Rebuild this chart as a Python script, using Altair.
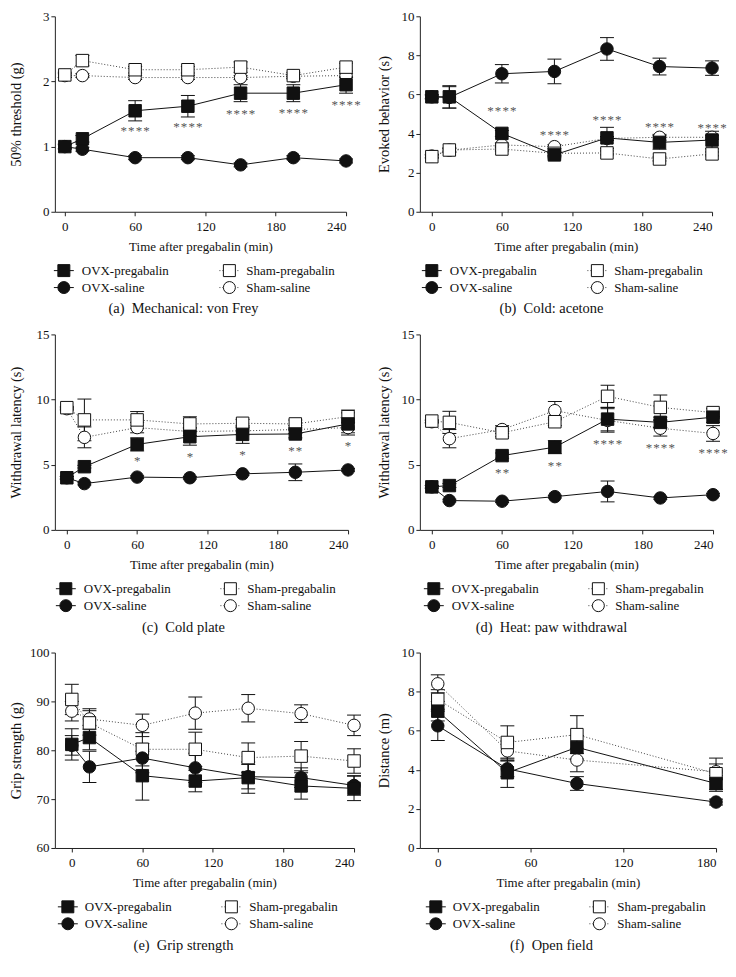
import altair as alt
import pandas as pd

SERIF = "Liberation Serif"
GROUPS = ["OVX-pregabalin", "OVX-saline", "Sham-pregabalin", "Sham-saline"]
T7 = [0, 15, 60, 105, 150, 195, 240]
T4 = [0, 45, 90, 180]
STAR4 = "*\u200a*\u200a*\u200a*"
STAR2 = "*\u200a*"
STAR1 = "*"

# ---------------- (a) Mechanical: von Frey ----------------
a_ovx_preg = [1.00, 1.12, 1.55, 1.62, 1.82, 1.82, 1.95]
a_ovx_preg_sem = [0.04, 0.05, 0.155, 0.165, 0.13, 0.13, 0.13]
a_ovx_sal = [1.00, 0.96, 0.83, 0.83, 0.72, 0.83, 0.78]
a_ovx_sal_sem = [0.03, 0.03, 0.03, 0.03, 0.03, 0.03, 0.03]
a_sham_preg = [2.10, 2.32, 2.18, 2.18, 2.22, 2.09, 2.22]
a_sham_preg_sem = [0.04, 0.08, 0.05, 0.05, 0.08, 0.05, 0.06]
a_sham_sal = [2.09, 2.09, 2.06, 2.06, 2.06, 2.08, 2.09]
a_sham_sal_sem = [0.03, 0.03, 0.03, 0.03, 0.03, 0.03, 0.03]
a_star_t = [60, 105, 150, 195, 240]
a_star_y = [1.28, 1.35, 1.54, 1.56, 1.68]
a_star_lbl = [STAR4, STAR4, STAR4, STAR4, STAR4]

# ---------------- (b) Cold: acetone ----------------
b_ovx_preg = [5.88, 5.88, 4.01, 2.91, 3.78, 3.55, 3.67]
b_ovx_preg_sem = [0.10, 0.57, 0.15, 0.10, 0.54, 0.35, 0.45]
b_ovx_sal = [5.88, 5.85, 7.06, 7.18, 8.33, 7.43, 7.35]
b_ovx_sal_sem = [0.10, 0.55, 0.47, 0.63, 0.58, 0.43, 0.37]
b_sham_preg = [2.82, 3.16, 3.21, 2.99, 3.01, 2.70, 2.96]
b_sham_preg_sem = [0.08, 0.10, 0.10, 0.10, 0.10, 0.10, 0.10]
b_sham_sal = [2.85, 3.15, 3.42, 3.33, 3.75, 3.81, 3.81]
b_sham_sal_sem = [0.08, 0.10, 0.10, 0.10, 0.10, 0.15, 0.10]
b_star_t = [60, 105, 150, 195, 240]
b_star_y = [5.29, 4.07, 4.83, 4.49, 4.45]
b_star_lbl = [STAR4, STAR4, STAR4, STAR4, STAR4]

# ---------------- (c) Cold plate ----------------
c_ovx_preg = [4.00, 4.85, 6.56, 7.15, 7.33, 7.36, 8.13]
c_ovx_preg_sem = [0.10, 0.10, 0.50, 0.65, 0.69, 0.30, 0.85]
c_ovx_sal = [4.00, 3.55, 4.05, 4.00, 4.30, 4.42, 4.60]
c_ovx_sal_sem = [0.10, 0.10, 0.10, 0.10, 0.10, 0.64, 0.10]
c_sham_preg = [9.38, 8.44, 8.44, 8.13, 8.18, 8.13, 8.69]
c_sham_preg_sem = [0.10, 1.60, 0.64, 0.55, 0.30, 0.30, 0.50]
c_sham_sal = [9.30, 7.10, 7.85, 7.55, 7.60, 7.70, 7.85]
c_sham_sal_sem = [0.10, 0.80, 0.40, 0.30, 0.30, 0.30, 0.40]
c_star_t = [60, 105, 150, 195, 240]
c_star_y = [5.49, 5.82, 6.00, 6.26, 6.64]
c_star_lbl = [STAR1, STAR1, STAR1, STAR2, STAR1]

# ---------------- (d) Heat: paw withdrawal ----------------
d_ovx_preg = [3.30, 3.40, 5.70, 6.35, 8.50, 8.25, 8.65]
d_ovx_preg_sem = [0.10, 0.15, 0.20, 0.50, 0.90, 0.40, 0.40]
d_ovx_sal = [3.30, 2.25, 2.20, 2.55, 2.95, 2.45, 2.70]
d_ovx_sal_sem = [0.10, 0.10, 0.10, 0.10, 0.80, 0.10, 0.10]
d_sham_preg = [8.35, 8.25, 7.45, 8.30, 10.25, 9.40, 9.00]
d_sham_preg_sem = [0.10, 0.85, 0.30, 0.30, 0.85, 0.95, 0.30]
d_sham_sal = [8.30, 7.00, 7.70, 9.15, 8.40, 7.80, 7.40]
d_sham_sal_sem = [0.10, 0.70, 0.30, 0.70, 0.90, 0.60, 0.60]
d_star_t = [60, 105, 150, 195, 240]
d_star_y = [4.60, 5.10, 6.80, 6.50, 6.10]
d_star_lbl = [STAR2, STAR2, STAR4, STAR4, STAR4]

# ---------------- (e) Grip strength ----------------
e_ovx_preg = [81.2, 82.6, 74.8, 73.7, 74.4, 72.7, 72.2]
e_ovx_preg_sem = [3.2, 2.5, 5.0, 2.2, 3.2, 2.7, 2.5]
e_ovx_sal = [81.0, 76.6, 78.4, 76.4, 74.6, 74.4, 72.8]
e_ovx_sal_sem = [2.0, 3.2, 3.0, 3.0, 2.5, 2.0, 2.0]
e_sham_preg = [90.4, 85.6, 80.2, 80.2, 78.5, 78.8, 77.8]
e_sham_preg_sem = [3.1, 2.5, 3.4, 3.5, 3.0, 3.0, 2.5]
e_sham_sal = [88.0, 86.4, 85.1, 87.6, 88.6, 87.5, 85.1]
e_sham_sal_sem = [2.0, 2.1, 2.3, 3.3, 2.8, 1.8, 2.1]

# ---------------- (f) Open field ----------------
f_ovx_preg = [7.00, 3.85, 5.15, 3.30]
f_ovx_preg_sem = [0.50, 0.75, 0.60, 0.40]
f_ovx_sal = [6.25, 4.05, 3.30, 2.35]
f_ovx_sal_sem = [0.75, 0.40, 0.35, 0.15]
f_sham_preg = [7.60, 5.40, 5.80, 3.80]
f_sham_preg_sem = [0.50, 0.85, 0.97, 0.80]
f_sham_sal = [8.40, 4.97, 4.50, 3.90]
f_sham_sal_sem = [0.46, 0.50, 0.60, 0.40]

# column 0 axis at page x 53, column 1 at 418 (shared per column)
PANELS = [
    dict(t=T7, series=[a_ovx_preg, a_ovx_sal, a_sham_preg, a_sham_sal],
         sems=[a_ovx_preg_sem, a_ovx_sal_sem, a_sham_preg_sem, a_sham_sal_sem],
         ydom=[0, 3], yticks=[0, 1, 2, 3], xticks=[0, 60, 120, 180, 240],
         ytitle="50% threshold (g)", caption="(a)\u2002Mechanical: von Frey",
         stars=(a_star_t, a_star_y, a_star_lbl), col=0, tp=19, w=292, xmin=-8.5,
         leg=[62, 80, 228, 245]),
    dict(t=T7, series=[b_ovx_preg, b_ovx_sal, b_sham_preg, b_sham_sal],
         sems=[b_ovx_preg_sem, b_ovx_sal_sem, b_sham_preg_sem, b_sham_sal_sem],
         ydom=[0, 10], yticks=[0, 2, 4, 6, 8, 10], xticks=[0, 60, 120, 180, 240],
         ytitle="Evoked behavior (s)", caption="(b)\u2002Cold: acetone",
         stars=(b_star_t, b_star_y, b_star_lbl), col=1, tp=9.5, w=293, xmin=-10.25,
         leg=[62, 80, 228, 245]),
    dict(t=T7, series=[c_ovx_preg, c_ovx_sal, c_sham_preg, c_sham_sal],
         sems=[c_ovx_preg_sem, c_ovx_sal_sem, c_sham_preg_sem, c_sham_sal_sem],
         ydom=[0, 15], yticks=[0, 5, 10, 15], xticks=[0, 60, 120, 180, 240],
         ytitle="Withdrawal latency (s)", caption="(c)\u2002Cold plate",
         stars=(c_star_t, c_star_y, c_star_lbl), col=0, tp=12.5, w=294, xmin=-10.2,
         leg=[64, 82, 229, 246]),
    dict(t=T7, series=[d_ovx_preg, d_ovx_sal, d_sham_preg, d_sham_sal],
         sems=[d_ovx_preg_sem, d_ovx_sal_sem, d_sham_preg_sem, d_sham_sal_sem],
         ydom=[0, 15], yticks=[0, 5, 10, 15], xticks=[0, 60, 120, 180, 240],
         ytitle="Withdrawal latency (s)", caption="(d)\u2002Heat: paw withdrawal",
         stars=(d_star_t, d_star_y, d_star_lbl), col=1, tp=9.5, w=294, xmin=-10.2,
         leg=[64, 82, 229, 246]),
    dict(t=T7, series=[e_ovx_preg, e_ovx_sal, e_sham_preg, e_sham_sal],
         sems=[e_ovx_preg_sem, e_ovx_sal_sem, e_sham_preg_sem, e_sham_sal_sem],
         ydom=[60, 100], yticks=[60, 70, 80, 90, 100], xticks=[0, 60, 120, 180, 240],
         ytitle="Grip strength (g)", caption="(e)\u2002Grip strength",
         stars=None, col=0, tp=6, w=300, xmin=-14.4,
         leg=[66, 83, 230, 248]),
    dict(t=T4, series=[f_ovx_preg, f_ovx_sal, f_sham_preg, f_sham_sal],
         sems=[f_ovx_preg_sem, f_ovx_sal_sem, f_sham_preg_sem, f_sham_sal_sem],
         ydom=[0, 10], yticks=[0, 2, 4, 6, 8, 10], xticks=[0, 60, 120, 180],
         ytitle="Distance (m)", caption="(f)\u2002Open field",
         stars=None, col=1, tp=9.5, w=297, xmin=-11.6,
         leg=[66, 83, 230, 248]),
]

H = 196
TOP, BOT = 7, 116
AXIS_X = [53, 418]
COL_START = [8, 376]
COL_END = [375, 727]
CAP_X = [182, 550]
MSIZE = 156
INK = "#111111"
DOT = "#444444"

MARKS = {
    "OVX-pregabalin": dict(shape="square", fill=INK, dash=None),
    "OVX-saline": dict(shape="circle", fill=INK, dash=None),
    "Sham-pregabalin": dict(shape="square", fill="white", dash=[1, 2]),
    "Sham-saline": dict(shape="circle", fill="white", dash=[1, 2]),
}


def panel(p):
    rows = []
    for g, ser, sem in zip(GROUPS, p["series"], p["sems"]):
        for t, m, s in zip(p["t"], ser, sem):
            rows.append(dict(t=t, group=g, mean=m, lo=m - s, hi=m + s))
    df = pd.DataFrame(rows)

    xs = alt.Scale(domain=[p["xmin"], p["t"][-1]], nice=False, zero=False)
    ys = alt.Scale(domain=p["ydom"], nice=False, zero=False)
    xaxis = alt.Axis(values=p["xticks"], title="Time after pregabalin (min)",
                     labelPadding=5, titlePadding=7, format="d", zindex=1)
    yaxis = alt.Axis(values=p["yticks"], title=p["ytitle"], titlePadding=p["tp"],
                     labelPadding=2, format="d", zindex=1)
    X = alt.X("t:Q", scale=xs, axis=xaxis)

    def Yf(field):
        return alt.Y(f"{field}:Q", scale=ys, axis=yaxis)

    c = p["col"]
    A = AXIS_X[c]
    L = A - COL_START[c]
    Rx = COL_END[c] - A

    one = pd.DataFrame({"k": [0]})
    layers = []
    # white background frame that fixes the panel's bounds (invisible on white)
    layers.append(alt.Chart(one).mark_rect(fill="white", strokeWidth=0).encode(
        x=alt.value(-L + 0.5), x2=alt.value(Rx - 0.5), y=alt.value(-TOP + 0.5), y2=alt.value(H + BOT - 0.5)))

    # connecting lines
    for g in GROUPS:
        sty = MARKS[g]
        kw = dict(color=INK if sty["dash"] is None else DOT, strokeWidth=1)
        if sty["dash"] is not None:
            kw["strokeDash"] = sty["dash"]
        layers.append(alt.Chart(df).transform_filter(alt.datum.group == g)
                      .mark_line(**kw).encode(x=X, y=Yf("mean")))

    # error bars
    layers.append(alt.Chart(df).mark_rule(color=INK, strokeWidth=1).encode(
        x=X, y=Yf("lo"), y2="hi:Q"))
    for f in ["lo", "hi"]:
        layers.append(alt.Chart(df).mark_tick(orient="horizontal", size=14, thickness=1,
                                              color=INK, opacity=1).encode(x=X, y=Yf(f)))

    # markers (open first, filled on top)
    for g in ["Sham-saline", "Sham-pregabalin", "OVX-saline", "OVX-pregabalin"]:
        sty = MARKS[g]
        layers.append(alt.Chart(df).transform_filter(alt.datum.group == g)
                      .mark_point(shape=sty["shape"], filled=True, fill=sty["fill"],
                                  stroke=INK, strokeWidth=1, size=MSIZE, opacity=1)
                      .encode(x=X, y=Yf("mean")))

    # significance asterisks
    if p["stars"] is not None:
        st, sy, sl = p["stars"]
        sdf = pd.DataFrame({"t": st, "mean": sy, "lbl": sl})
        layers.append(alt.Chart(sdf).mark_text(font=SERIF, fontSize=13, color="#555555",
                                               baseline="middle", dy=3)
                      .encode(x=X, y=Yf("mean"), text="lbl:N"))

    # custom legend
    lg = p["leg"]
    off = 368 * c
    ent = [
        ("OVX-pregabalin", lg[0], lg[1], H + 59),
        ("OVX-saline", lg[0], lg[1], H + 76),
        ("Sham-pregabalin", lg[2], lg[3], H + 59),
        ("Sham-saline", lg[2], lg[3], H + 76),
    ]
    for g, sx, tx, yy in ent:
        sty = MARKS[g]
        ldf = pd.DataFrame({"label": [g]})
        sx_r = sx + off - A
        tx_r = tx + off - A
        kw = dict(color=INK if sty["dash"] is None else DOT, strokeWidth=1)
        if sty["dash"] is not None:
            kw["strokeDash"] = sty["dash"]
        layers.append(alt.Chart(ldf).mark_rule(**kw).encode(
            x=alt.value(sx_r - 10), x2=alt.value(sx_r + 10), y=alt.value(yy)))
        layers.append(alt.Chart(ldf).mark_point(
            shape=sty["shape"], filled=True, fill=sty["fill"], stroke=INK,
            strokeWidth=1, size=144, opacity=1).encode(x=alt.value(sx_r), y=alt.value(yy)))
        layers.append(alt.Chart(ldf).mark_text(
            font=SERIF, fontSize=13, color=INK, align="left", baseline="middle").encode(
            x=alt.value(tx_r), y=alt.value(yy), text="label:N"))

    # caption
    cdf = pd.DataFrame({"cap": [p["caption"]]})
    layers.append(alt.Chart(cdf).mark_text(
        font=SERIF, fontSize=14.5, color=INK, align="center", baseline="middle").encode(
        x=alt.value(CAP_X[c] - A), y=alt.value(H + 98), text="cap:N"))

    return alt.layer(*layers).properties(width=p["w"], height=H)


charts = [panel(p) for p in PANELS]
chart = (
    alt.concat(*charts, columns=2, spacing=0)
    .properties(padding={"left": 0, "top": 0, "right": 0, "bottom": 0}, background="white")
    .configure_view(stroke=None)
    .configure_axis(grid=False, labelFont=SERIF, titleFont=SERIF, labelFontSize=13,
                    titleFontWeight="normal", domainColor="#222222", tickColor="#222222",
                    labelColor=INK, titleColor=INK, tickSize=4, domainWidth=1, tickWidth=1)
    .configure_axisX(titleFontSize=13)
    .configure_axisY(titleFontSize=14.5)
)

chart.save("out.html", embed_options={"renderer": "svg", "actions": False})
